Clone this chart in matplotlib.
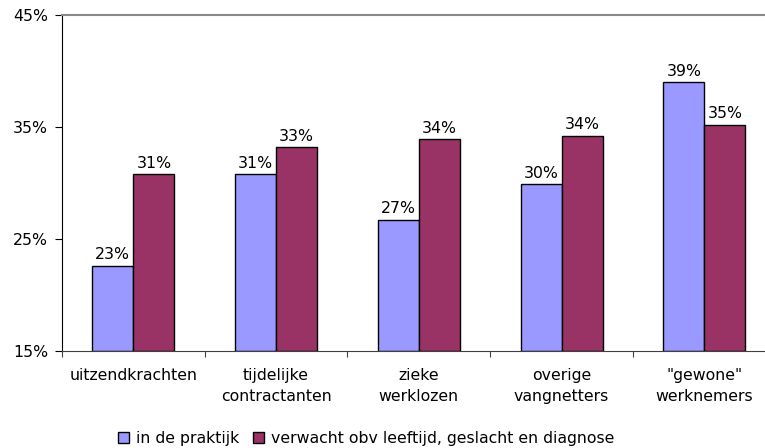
import matplotlib.pyplot as plt
import numpy as np

# categorieën en waarden (in %)
categories = ['uitzendkrachten', 'tijdelijke\ncontractanten', 'zieke\nwerklozen',
              'overige\nvangnetters', '"gewone"\nwerknemers']
praktijk = [22.6, 30.8, 26.7, 29.9, 39.0]
verwacht = [30.8, 33.2, 33.9, 34.2, 35.2]
series_names = ['in de praktijk', 'verwacht obv leeftijd, geslacht en diagnose']
yticks = [15, 25, 35, 45]

plt.rcParams['font.family'] = 'DejaVu Sans'
fs = 11.3

fig = plt.figure(figsize=(7.65, 4.48), dpi=100)
ax = fig.add_axes([0.081, 0.2165, 0.933, 0.75])

x = np.arange(len(categories))
w = 0.287
b1 = ax.bar(x - w / 2, [v - 15 for v in praktijk], w, bottom=15, color='#9999FF',
            edgecolor='black', linewidth=1, label=series_names[0])
b2 = ax.bar(x + w / 2, [v - 15 for v in verwacht], w, bottom=15, color='#993366',
            edgecolor='black', linewidth=1, label=series_names[1])

for xi, v in zip(x - w / 2, praktijk):
    ax.annotate(f'{v:.0f}%', (xi, v), xytext=(0, 2.5), textcoords='offset points',
                ha='center', va='bottom', fontsize=fs)
for xi, v in zip(x + w / 2, verwacht):
    ax.annotate(f'{v:.0f}%', (xi, v), xytext=(0, 2.5), textcoords='offset points',
                ha='center', va='bottom', fontsize=fs)

ax.set_xlim(-0.5, len(categories) - 0.5)
ax.set_ylim(15, 45)
ax.set_yticks(yticks)
ax.set_yticklabels([f'{t}%' for t in yticks], fontsize=fs)
ax.set_xticks(np.arange(len(categories) + 1) - 0.5)
ax.set_xticklabels([])
ax.set_xticks(x, minor=True)
ax.set_xticklabels(categories, minor=True, fontsize=fs, linespacing=1.55)
ax.tick_params(axis='x', which='minor', length=0, pad=12)
ax.tick_params(axis='x', which='major', length=4, color='#404040')
ax.tick_params(axis='y', length=5, pad=5)

ax.spines['right'].set_visible(False)
ax.spines['top'].set_color('#888888')
ax.spines['top'].set_linewidth(1.5)
ax.spines['bottom'].set_color('#404040')
ax.spines['left'].set_color('black')

fig.legend(handles=[b1, b2], loc='lower center', bbox_to_anchor=(0.479, -0.027), ncol=2,
           frameon=False, fontsize=fs, handlelength=0.7, handleheight=0.7,
           handletextpad=0.45, columnspacing=0.9)

fig.savefig('out.png', dpi=100)
